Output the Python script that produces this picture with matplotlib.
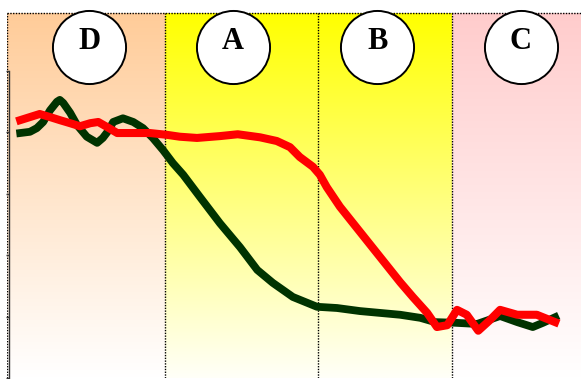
import matplotlib
matplotlib.use('Agg')
import matplotlib.pyplot as plt
import numpy as np
from matplotlib.colors import LinearSegmentedColormap

# zones along the x axis (0..100)
zone_labels = ['D', 'A', 'B', 'C']
zone_edges = [0, 27.5, 54.2, 77.5, 100]
zone_top_colors = ['#FFCC99', '#FFFF00', '#FFFF00', '#FFCCCC']
zone_bottom_colors = ['#FFFFFF', '#FFFFF8', '#FFFFF8', '#FFFFFF']
label_x = [14.3, 39.4, 64.5, 89.5]

# green curve
green_x = [2.3, 4.0, 5.2, 6.3, 7.5, 8.7, 9.2, 9.8, 11.0, 12.2, 13.9, 15.7, 16.7,
           17.6, 18.5, 20.2, 22.0, 23.7, 25.4, 27.2, 28.9, 30.7, 33.6, 37.1, 40.6,
           43.6, 46.3, 49.8, 54.0, 57.5, 61.5, 65.0, 68.5, 72.0, 74.6, 78.0, 81.9,
           85.9, 88.9, 91.6, 93.4, 95.5]
green_y = [3.99, 4.01, 4.07, 4.17, 4.36, 4.50, 4.53, 4.48, 4.32, 4.12, 3.93, 3.83, 3.91,
           4.02, 4.17, 4.23, 4.17, 4.07, 3.91, 3.71, 3.50, 3.31, 2.95, 2.52, 2.13,
           1.76, 1.55, 1.32, 1.16, 1.14, 1.09, 1.06, 1.03, 0.98, 0.91, 0.90, 0.88,
           1.01, 0.91, 0.83, 0.90, 0.99]

# red curve
red_x = [2.3, 4.0, 5.7, 7.5, 9.2, 11.0, 12.7, 14.5, 15.9, 17.4, 19.2, 22.0, 24.9,
         27.9, 30.1, 33.1, 37.1, 40.2, 44.1, 47.0, 49.3, 51.0, 53.3, 54.5, 55.7,
         58.0, 61.5, 65.0, 68.5, 70.7, 73.2, 74.9, 76.7, 78.4, 80.1, 82.1, 84.1,
         85.9, 88.9, 92.3, 95.5]
red_y = [4.20, 4.25, 4.30, 4.25, 4.20, 4.15, 4.10, 4.15, 4.17, 4.09, 3.99, 3.99, 3.99,
         3.96, 3.93, 3.91, 3.94, 3.97, 3.92, 3.86, 3.76, 3.60, 3.44, 3.31, 3.11,
         2.79, 2.38, 1.97, 1.56, 1.32, 1.06, 0.83, 0.86, 1.11, 1.03, 0.77, 0.94,
         1.11, 1.03, 1.03, 0.91]

y_ticks = [0, 1, 2, 3, 4, 5]
y_top = 5.945

fig = plt.figure(figsize=(5.81, 3.79), dpi=100)
ax = fig.add_axes([7 / 581, 1 / 379, 574 / 581, 365 / 379])
ax.set_xlim(0, 100)
ax.set_ylim(0, y_top)

# gradient panels
for i in range(4):
    cmap = LinearSegmentedColormap.from_list('z%d' % i, [zone_bottom_colors[i], zone_top_colors[i]])
    grad = np.linspace(1, 0, 256).reshape(-1, 1)
    ax.imshow(grad, cmap=cmap, aspect='auto', origin='upper',
              extent=(zone_edges[i], zone_edges[i + 1], 0, y_top), zorder=0)

# dotted borders
for xe in zone_edges[:-1]:
    ax.axvline(xe, color='black', lw=1.0, ls=(0, (1, 1)), zorder=1)
ax.axhline(y_top, color='black', lw=1.0, ls=(0, (1, 1)), zorder=1, clip_on=False)

ax.plot(green_x, green_y, color='#003300', lw=5.6, zorder=3, solid_joinstyle='round')
ax.plot(red_x, red_y, color='#FF0000', lw=5.8, zorder=4, solid_joinstyle='round')

# circle labels
ax.scatter(label_x, [5.39] * 4, s=2770, facecolor='white', edgecolor='black',
           linewidth=1.4, zorder=5, clip_on=False)
for lx, lab in zip(label_x, zone_labels):
    ax.text(lx, 5.36, lab, ha='center', va='baseline', fontsize=22,
            fontweight='bold', family='Liberation Serif', zorder=6)

# left axis
for s in ['top', 'right', 'bottom']:
    ax.spines[s].set_visible(False)
ax.spines['left'].set_position(('data', 0.3))
ax.spines['left'].set_bounds(0, 5)
ax.spines['left'].set_linewidth(1.0)
ax.spines['left'].set_color('#333333')
ax.set_yticks(y_ticks)
ax.set_yticklabels([])
ax.tick_params(axis='y', length=2, width=1, direction='out', color='#333333')
ax.set_xticks([])

fig.savefig('out.png', dpi=100)
